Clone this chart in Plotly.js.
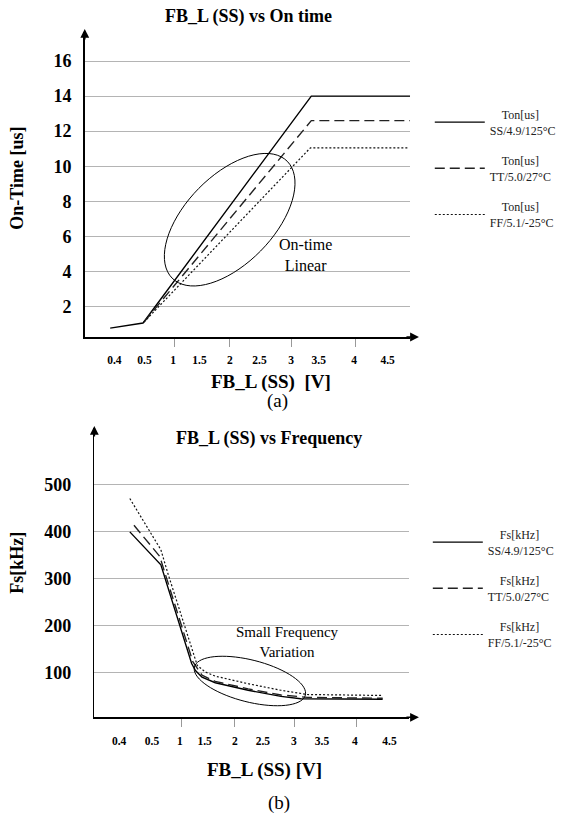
<!DOCTYPE html>
<html>
<head>
<meta charset="utf-8">
<script src="https://cdn.plot.ly/plotly-3.0.1.min.js"></script>
<style>html,body{margin:0;padding:0;background:#fff;}#chart{width:561px;height:814px;}</style>
</head>
<body>
<div id="chart"></div>
<script>
// ---------- DATA ----------
// x positions are in axis units of the (non-uniform) printed FB_L scale
const xTickLabels = ['0.4','0.5','1','1.5','2','2.5','3','3.5','4','4.5'];
const topLabelPos = [1.0, 2.02, 2.99, 3.88, 4.91, 5.91, 6.98, 7.91, 9.11, 10.24];
const topTickPos  = [3.04, 4.89, 6.99, 9.16];
const botLabelPos = [0.84, 1.95, 2.89, 3.73, 4.75, 5.70, 6.75, 7.70, 8.81, 9.98];
const botTickPos  = [2.95, 4.75, 6.77, 8.87];

const tonTicks = [2, 4, 6, 8, 10, 12, 14, 16];
const fsTicks  = [100, 200, 300, 400, 500];

// On-time [us]
const ssTonX = [0.86, 1.97, 7.66, 11.0];
const ssTonY = [0.76, 1.05, 14.0, 14.0];
const ttTonX = [2.0, 7.66, 11.0];
const ttTonY = [1.1, 12.6, 12.6];
const ffTonX = [2.0, 7.63, 10.93];
const ffTonY = [1.1, 11.05, 11.05];

// Frequency [kHz]
const ssFsX = [1.2, 2.25, 3.29, 3.42, 3.64, 4.09, 5.2, 6.31, 6.98, 9.75];
const ssFsY = [400, 330, 120, 105, 91, 79, 63, 50, 45, 44];
const ttFsX = [1.34, 2.21, 3.33, 3.64, 4.09, 5.2, 6.31, 7.2, 9.75];
const ttFsY = [414, 348, 124, 95, 82, 66, 53, 48, 46];
const ffFsX = [1.2, 2.25, 2.48, 3.48, 3.75, 4.09, 5.2, 6.31, 7.2, 9.75];
const ffFsY = [471, 362, 313, 116, 102, 93, 77, 63, 54, 52];

const tonNames = ['&nbsp;&nbsp;&nbsp;&nbsp;Ton[us]<br>SS/4.9/125°C',
                  '&nbsp;&nbsp;&nbsp;&nbsp;Ton[us]<br>TT/5.0/27°C',
                  '&nbsp;&nbsp;&nbsp;&nbsp;Ton[us]<br>FF/5.1/-25°C'];
const fsNames  = ['&nbsp;&nbsp;&nbsp;&nbsp;Fs[kHz]<br>SS/4.9/125°C',
                  '&nbsp;&nbsp;&nbsp;&nbsp;Fs[kHz]<br>TT/5.0/27°C',
                  '&nbsp;&nbsp;&nbsp;&nbsp;Fs[kHz]<br>FF/5.1/-25°C'];

// ---------- STYLE / LAYOUT ----------
const W = 561, H = 814;
const FONT = 'Liberation Serif, Times New Roman, serif';
const px = v => v / W;
const py = v => 1 - v / H;

const lineSS = {color: '#000', width: 1.4, dash: 'solid'};
const lineTT = {color: '#222', width: 1.4, dash: '10px,5px'};
const lineFF = {color: '#111', width: 1.2, dash: '2px,2px'};

const traces = [
  {x: ssTonX, y: ssTonY, name: tonNames[0], line: lineSS, legendgroup: 'a1', legend: 'legend'},
  {x: ttTonX, y: ttTonY, name: tonNames[1], line: lineTT, legendgroup: 'a2', legend: 'legend'},
  {x: ffTonX, y: ffTonY, name: tonNames[2], line: lineFF, legendgroup: 'a3', legend: 'legend'},
  {x: ssFsX, y: ssFsY, name: fsNames[0], line: lineSS, legendgroup: 'b1', legend: 'legend2', xaxis: 'x2', yaxis: 'y2'},
  {x: ttFsX, y: ttFsY, name: fsNames[1], line: lineTT, legendgroup: 'b2', legend: 'legend2', xaxis: 'x2', yaxis: 'y2'},
  {x: ffFsX, y: ffFsY, name: fsNames[2], line: lineFF, legendgroup: 'b3', legend: 'legend2', xaxis: 'x2', yaxis: 'y2'}
].map(t => Object.assign({type: 'scatter', mode: 'lines', hoverinfo: 'skip'}, t));

function xAxis(domain, range, labelPos, tickPos, anchor) {
  return {
    domain: domain, range: range, anchor: anchor,
    tickmode: 'array', tickvals: labelPos, ticktext: xTickLabels,
    ticks: '', ticklabelstandoff: 12,
    tickfont: {family: FONT, size: 11.5, color: '#000', weight: 'bold'},
    minor: {tickmode: 'array', tickvals: tickPos, ticks: 'outside', ticklen: 8,
            tickcolor: '#999', tickwidth: 1, showgrid: false},
    showgrid: false, zeroline: false,
    showline: true, linecolor: '#000', linewidth: 1.6, fixedrange: true
  };
}
function yAxis(domain, range, vals, standoff, anchor) {
  return {
    domain: domain, range: range, anchor: anchor,
    tickmode: 'array', tickvals: vals, ticks: '',
    ticklabelstandoff: standoff,
    tickfont: {family: FONT, size: 18, color: '#000', weight: 'bold'},
    showgrid: true, gridcolor: '#b4b4b4', gridwidth: 1, zeroline: false,
    showline: true, linecolor: '#000', linewidth: 1.6, fixedrange: true
  };
}

// ellipse outlines (annotation decoration) built in pixel space
function ellipsePath(cx, cy, a, b, angDeg) {
  const f = angDeg * Math.PI / 180, n = 72;
  let d = '';
  for (let i = 0; i <= n; i++) {
    const t = 2 * Math.PI * i / n;
    const xx = cx + a * Math.cos(t) * Math.cos(f) - b * Math.sin(t) * Math.sin(f);
    const yy = cy + a * Math.cos(t) * Math.sin(f) + b * Math.sin(t) * Math.cos(f);
    d += (i === 0 ? 'M' : 'L') + px(xx).toFixed(5) + ',' + py(yy).toFixed(5);
  }
  return d + 'Z';
}
const ellipses = [
  {cx: 233, cy: 219.7, a: 82.6, b: 44.3, ang: -45},
  {cx: 253.5, cy: 681, a: 58, b: 21, ang: 14}
];

function txt(text, x, y, size, extra) {
  return Object.assign({text: text, x: px(x), y: py(y), xref: 'paper', yref: 'paper',
    showarrow: false, xanchor: 'center', yanchor: 'middle',
    font: {family: FONT, size: size, color: '#000'}}, extra || {});
}
function arrow(hx, hy, axp, ayp) {
  return {x: px(hx), y: py(hy), xref: 'paper', yref: 'paper', ax: axp, ay: ayp,
    showarrow: true, arrowhead: 2, arrowsize: 1.1, arrowwidth: 1.6, arrowcolor: '#000',
    text: '', standoff: 0};
}

const annotations = [
  txt('<b>FB_L (SS) vs On time</b>', 251.7, 17, 18),
  txt('<b>On-Time [us]</b>', 17, 178, 18, {textangle: -90}),
  txt('<b>FB_L (SS)&nbsp; [V]</b>', 275, 381.5, 19),
  txt('(a)', 281.7, 401.5, 19),
  txt('On-time<br>Linear', 310, 255, 16),
  txt('<b>FB_L (SS) vs Frequency</b>', 272.7, 438.5, 18),
  txt('<b>Fs[kHz]</b>', 17, 563, 18, {textangle: -90}),
  txt('<b>FB_L (SS) [V]</b>', 268.3, 770, 19),
  txt('(b)', 282.7, 803, 19),
  txt('Small Frequency<br>Variation', 291.7, 641.7, 15),
  arrow(86, 29, 0, 12), arrow(425, 337, -14, 0),
  arrow(95.7, 426, 0, 12), arrow(425, 717.3, -14, 0)
];

const layout = {
  width: W, height: H, margin: {l: 0, r: 0, t: 0, b: 0},
  paper_bgcolor: '#fff', plot_bgcolor: '#fff',
  font: {family: FONT, color: '#000'},
  showlegend: true,
  xaxis:  xAxis([86 / W, 416 / W], [0, 11], topLabelPos, topTickPos, 'y'),
  yaxis:  yAxis([1 - 337 / H, 1 - 32 / H], [0.251, 17.66], tonTicks, 8, 'x'),
  xaxis2: xAxis([95.7 / W, 415 / W], [0, 10.643], botLabelPos, botTickPos, 'y2'),
  yaxis2: yAxis([1 - 717.3 / H, 1 - 428.3 / H], [5.5, 620.4], fsTicks, 18, 'x2'),
  legend:  {x: px(436), y: py(100), xanchor: 'left', yanchor: 'top', bgcolor: 'rgba(0,0,0,0)',
            font: {family: FONT, size: 12, color: '#222'}, tracegroupgap: 12, itemwidth: 50},
  legend2: {x: px(434), y: py(520), xanchor: 'left', yanchor: 'top', bgcolor: 'rgba(0,0,0,0)',
            font: {family: FONT, size: 12, color: '#222'}, tracegroupgap: 12, itemwidth: 50},
  shapes: ellipses.map(e => ({type: 'path', xref: 'paper', yref: 'paper',
            path: ellipsePath(e.cx, e.cy, e.a, e.b, e.ang),
            line: {color: '#000', width: 1}})),
  annotations: annotations
};

Plotly.newPlot('chart', traces, layout, {staticPlot: true, displayModeBar: false});
</script>
</body>
</html>
